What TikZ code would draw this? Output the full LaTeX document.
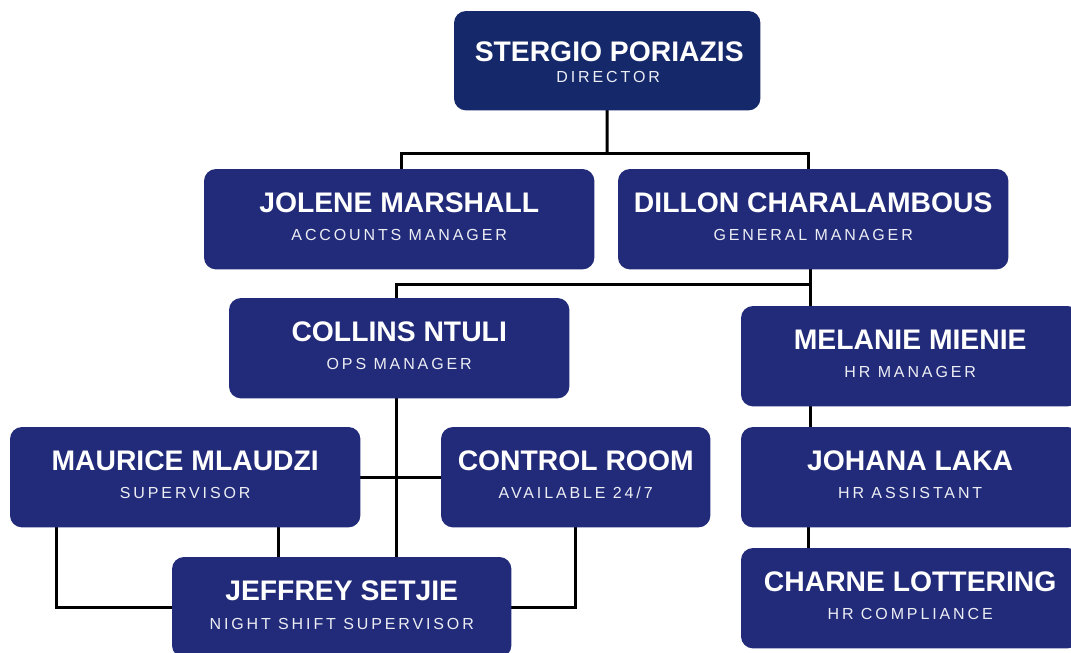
\documentclass[tikz,border=0pt]{standalone}
\usepackage{fontspec}
\usetikzlibrary{calc}
\newfontfamily\namefont{Liberation Sans}[BoldFont={Liberation Sans Bold}]
\newfontfamily\titlefont{Liberation Sans}[LetterSpace=18]
\definecolor{dirblue}{HTML}{14286A}
\definecolor{boxblue}{HTML}{222B7A}
\tikzset{
  box/.style={draw=none, inner sep=0pt, anchor=north west},
  nm/.style={anchor=base, text=white, inner sep=0pt, font=\namefont\bfseries\fontsize{28.3}{30}\selectfont},
  tt/.style={anchor=base, text=white!92!boxblue, inner sep=0pt, font=\titlefont\fontsize{16}{18}\selectfont},
  conn/.style={line width=3pt, black, line cap=rect}
}
\begin{document}
\begin{tikzpicture}[x=1pt, y=-1pt]
\clip (0,0) rectangle (1071,653);
\useasboundingbox (0,0) rectangle (1071,653);
\fill[white] (0,0) rectangle (1071,653);
% box frames
\node[box, minimum width=306pt, minimum height=99pt] (dir) at (454,11) {};
\node[box, minimum width=390pt, minimum height=100pt] (jol) at (204,169) {};
\node[box, minimum width=390pt, minimum height=100pt] (dil) at (618,169) {};
\node[box, minimum width=340pt, minimum height=100pt] (col) at (229,298) {};
\node[box, minimum width=338pt, minimum height=100pt] (mel) at (741,306) {};
\node[box, minimum width=350pt, minimum height=100pt] (mau) at (10,427) {};
\node[box, minimum width=269pt, minimum height=100pt] (ctl) at (441,427) {};
\node[box, minimum width=338pt, minimum height=100pt] (joh) at (741,427) {};
\node[box, minimum width=338pt, minimum height=100pt] (cha) at (741,548) {};
\node[box, minimum width=339pt, minimum height=100pt] (jef) at (172,557) {};
% connectors (drawn behind boxes)
\coordinate (b1) at (607,153);
\coordinate (b1l) at (401,153);
\coordinate (b1r) at (808,153);
\coordinate (b2) at (810,284);
\coordinate (b2l) at (396,284);
\coordinate (jl) at (56,607);
\coordinate (jr) at (575,607);
\coordinate (mx) at (278,0);
\coordinate (hx) at (808,0);
\draw[conn] (dir.south) -- (b1);
\draw[conn] (b1l |- jol.north) -- (b1l) -- (b1r) -- (b1r |- dil.north);
\draw[conn] (b2 |- dil.south) -- (b2 |- mel.north);
\draw[conn] (b2) -- (b2l) -- (b2l |- col.north);
\draw[conn] (b2l |- col.south) -- (b2l |- jef.north);
\draw[conn] (mau.east) -- (ctl.west);
\draw[conn] (mx |- mau.south) -- (mx |- jef.north);
\draw[conn] (jl |- mau.south) -- (jl) -- (jl -| jef.west);
\draw[conn] (jr |- ctl.south) -- (jr) -- (jr -| jef.east);
\draw[conn] (b2 |- mel.south) -- (b2 |- joh.north);
\draw[conn] (hx |- joh.south) -- (hx |- cha.north);
% box fills on top
\fill[dirblue, rounded corners=12pt] (dir.north west) rectangle (dir.south east);
\foreach \n in {jol,dil,col,mel,mau,ctl,joh,cha,jef}{
  \fill[boxblue, rounded corners=12pt] (\n.north west) rectangle (\n.south east);
}
% texts
\node[nm] (t1) at ($(dir.north)+(2,50)$) {STERGIO PORIAZIS};
\node[tt] (s1) at ($(dir.north)+(1,71)$) {DIRECTOR};
\node[nm] (t2) at ($(jol.north)+(0,43)$) {JOLENE MARSHALL};
\node[tt] (s2) at ($(jol.north)+(0,71)$) {ACCOUNTS MANAGER};
\node[nm] (t3) at ($(dil.north)+(0,43)$) {DILLON CHARALAMBOUS};
\node[tt] (s3) at ($(dil.north)+(0,71)$) {GENERAL MANAGER};
\node[nm] (t4) at ($(col.north)+(0,43)$) {COLLINS NTULI};
\node[tt] (s4) at ($(col.north)+(0,71)$) {OPS MANAGER};
\node[nm] (t5) at ($(mel.north)+(0,43)$) {MELANIE MIENIE};
\node[tt] (s5) at ($(mel.north)+(0,71)$) {HR MANAGER};
\node[nm] (t6) at ($(mau.north)+(0,43)$) {MAURICE MLAUDZI};
\node[tt] (s6) at ($(mau.north)+(0,71)$) {SUPERVISOR};
\node[nm] (t7) at ($(ctl.north)+(0,43)$) {CONTROL ROOM};
\node[tt] (s7) at ($(ctl.north)+(0,71)$) {AVAILABLE 24/7};
\node[nm] (t8) at ($(joh.north)+(0,43)$) {JOHANA LAKA};
\node[tt] (s8) at ($(joh.north)+(0,71)$) {HR ASSISTANT};
\node[nm] (t9) at ($(cha.north)+(0,43)$) {CHARNE LOTTERING};
\node[tt] (s9) at ($(cha.north)+(0,71)$) {HR COMPLIANCE};
\node[nm] (t10) at ($(jef.north)+(0,43)$) {JEFFREY SETJIE};
\node[tt] (s10) at ($(jef.north)+(0,72)$) {NIGHT SHIFT SUPERVISOR};
\end{tikzpicture}
\end{document}
